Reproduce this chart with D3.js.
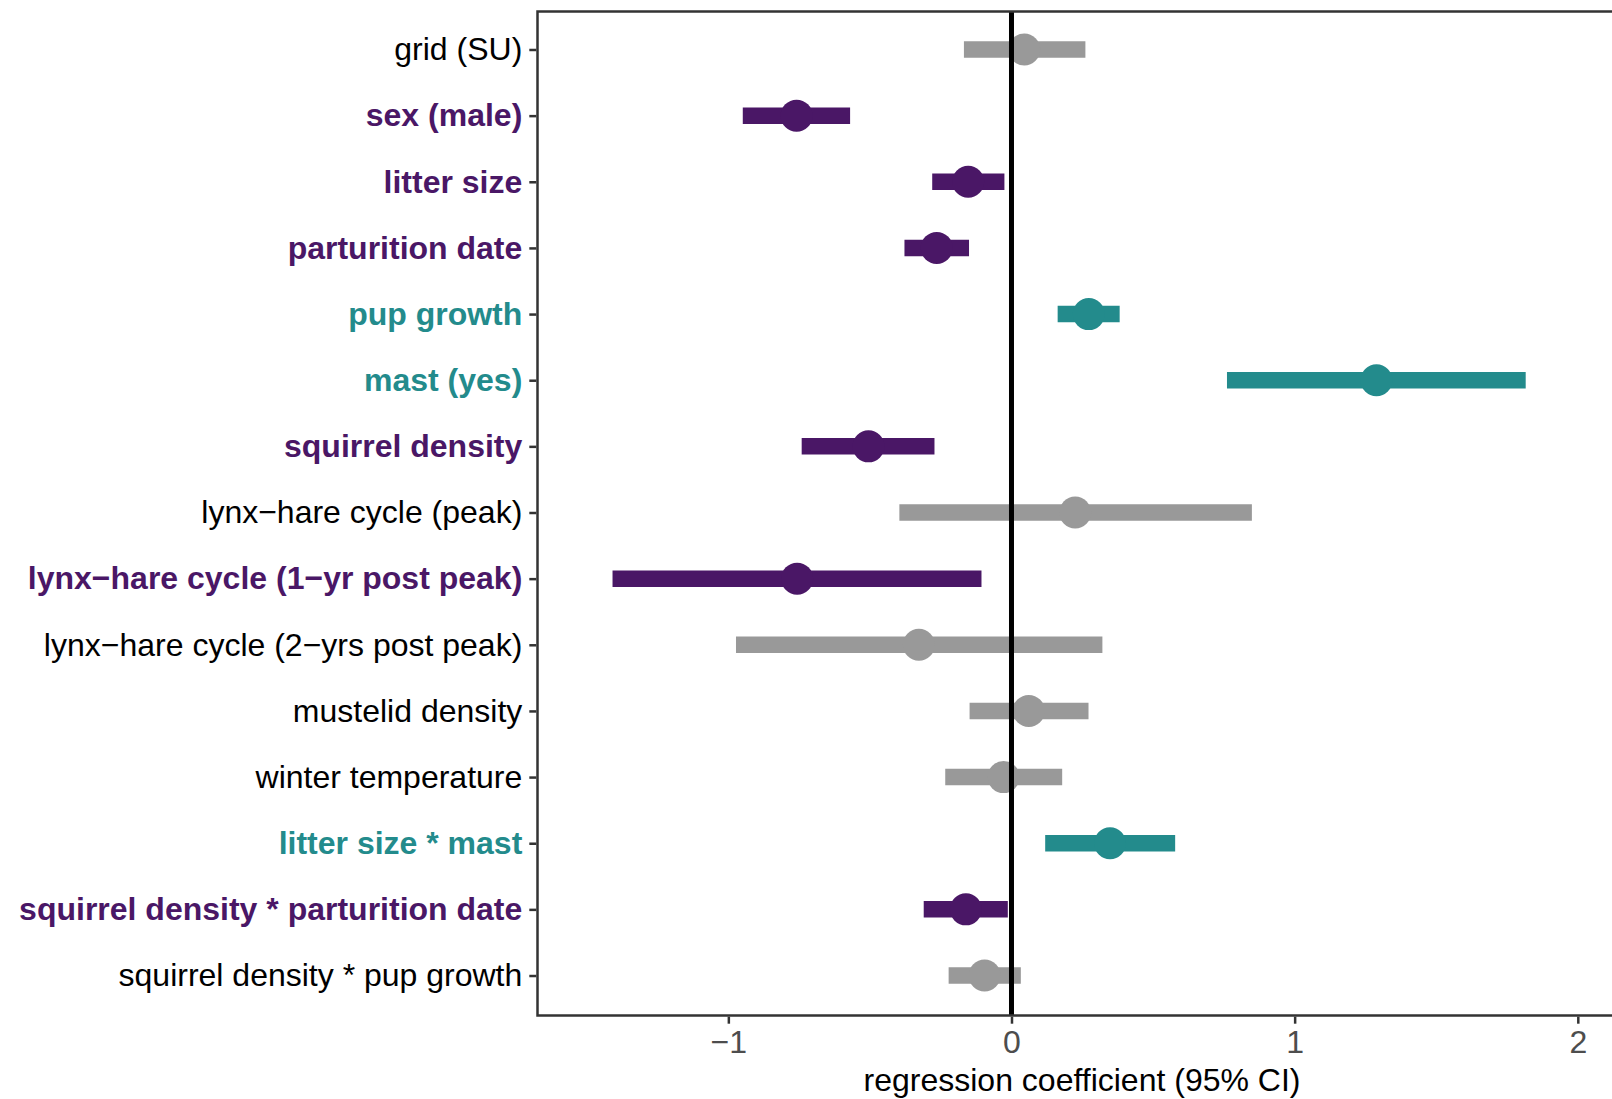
<!DOCTYPE html>
<html>
<head>
<meta charset="utf-8">
<script src="https://cdn.jsdelivr.net/npm/d3@7"></script>
<style>
  html, body { margin: 0; padding: 0; background: #ffffff; }
  svg { display: block; }
  text { font-family: "Liberation Sans", Arial, Helvetica, sans-serif; }
</style>
</head>
<body>
<svg id="chart" width="1612" height="1099"></svg>
<script>
// Model terms, top to bottom
const categories = [
  "grid (SU)",
  "sex (male)",
  "litter size",
  "parturition date",
  "pup growth",
  "mast (yes)",
  "squirrel density",
  "lynx\u2212hare cycle (peak)",
  "lynx\u2212hare cycle (1\u2212yr post peak)",
  "lynx\u2212hare cycle (2\u2212yrs post peak)",
  "mustelid density",
  "winter temperature",
  "litter size * mast",
  "squirrel density * parturition date",
  "squirrel density * pup growth"
];

// Coefficient estimates and 95% confidence limits
const estimates = [0.045, -0.759, -0.153, -0.264, 0.273, 1.289, -0.505, 0.225, -0.757, -0.327, 0.061, -0.028, 0.348, -0.161, -0.095];
const lower     = [-0.168, -0.949, -0.280, -0.378, 0.163, 0.761, -0.741, -0.396, -1.409, -0.973, -0.148, -0.234, 0.119, -0.310, -0.222];
const upper     = [0.261, -0.570, -0.025, -0.150, 0.382, 1.816, -0.272, 0.849, -0.106, 0.321, 0.272, 0.179, 0.578, -0.013, 0.033];

// Direction of each effect: "neg" / "pos" when the interval excludes zero
const effect = ["ns", "neg", "neg", "neg", "pos", "pos", "neg", "ns", "neg", "ns", "ns", "ns", "pos", "neg", "ns"];

const xTicks = [-1, 0, 1, 2];
const xTitle = "regression coefficient (95% CI)";

const rows = categories.map((c, i) => ({
  term: c, est: estimates[i], lo: lower[i], hi: upper[i], effect: effect[i]
}));

const colour = d3.scaleOrdinal()
  .domain(["neg", "pos", "ns"])
  .range(["#4a1766", "#238b8c", "#999999"]);
const labelColour = d3.scaleOrdinal()
  .domain(["neg", "pos", "ns"])
  .range(["#4a1766", "#238b8c", "#000000"]);

const svg = d3.select("#chart");
const panel = { left: 537.5, top: 11.5, right: 1626.5, bottom: 1015.5 };
const fontSize = 32;

const x = d3.scaleLinear()
  .domain([-1.674, 2.172])
  .range([panel.left, panel.right]);

const y = d3.scalePoint()
  .domain(categories)
  .range([9.8, 1015.2])
  .padding(0.6);

const g = svg.append("g");

// Confidence intervals
g.selectAll("line.ci")
  .data(rows)
  .join("line")
  .attr("class", "ci")
  .attr("x1", d => x(d.lo))
  .attr("x2", d => x(d.hi))
  .attr("y1", d => y(d.term))
  .attr("y2", d => y(d.term))
  .attr("stroke", d => colour(d.effect))
  .attr("stroke-width", 16.5)
  .attr("stroke-linecap", "butt");

// Point estimates
g.selectAll("circle.est")
  .data(rows)
  .join("circle")
  .attr("class", "est")
  .attr("cx", d => x(d.est))
  .attr("cy", d => y(d.term))
  .attr("r", 16)
  .attr("fill", d => colour(d.effect));

// Reference line at zero
g.append("line")
  .attr("x1", x(0)).attr("x2", x(0))
  .attr("y1", panel.top).attr("y2", panel.bottom)
  .attr("stroke", "#000000")
  .attr("stroke-width", 5);

// Panel border
svg.append("rect")
  .attr("x", panel.left)
  .attr("y", panel.top)
  .attr("width", panel.right - panel.left)
  .attr("height", panel.bottom - panel.top)
  .attr("fill", "none")
  .attr("stroke", "#333333")
  .attr("stroke-width", 2.5);

// Bottom axis
const fmt = v => (v < 0 ? "\u2212" + Math.abs(v) : String(v));
const xAxis = svg.append("g")
  .attr("transform", `translate(0,${panel.bottom + 1.2})`)
  .call(d3.axisBottom(x).tickValues(xTicks).tickFormat(fmt).tickSize(7).tickSizeOuter(0).tickPadding(7));
xAxis.select(".domain").remove();
xAxis.selectAll(".tick line").attr("stroke", "#333333").attr("stroke-width", 2.5);
xAxis.selectAll(".tick text")
  .attr("fill", "#4d4d4d")
  .attr("font-size", fontSize)
  .attr("font-family", "'Liberation Sans', Arial, Helvetica, sans-serif");

// Left axis
const yAxis = svg.append("g")
  .attr("transform", `translate(${panel.left - 1.2},0)`)
  .call(d3.axisLeft(y).tickSize(7).tickSizeOuter(0).tickPadding(7));
yAxis.select(".domain").remove();
yAxis.selectAll(".tick line").attr("stroke", "#333333").attr("stroke-width", 2.5);
yAxis.selectAll(".tick text")
  .data(rows)
  .attr("fill", d => labelColour(d.effect))
  .attr("font-weight", d => d.effect === "ns" ? "normal" : "bold")
  .attr("font-size", fontSize)
  .attr("font-family", "'Liberation Sans', Arial, Helvetica, sans-serif");

// Axis title
svg.append("text")
  .attr("x", (panel.left + panel.right) / 2)
  .attr("y", 1091)
  .attr("text-anchor", "middle")
  .attr("font-size", fontSize)
  .attr("fill", "#000000")
  .text(xTitle);
</script>
</body>
</html>
